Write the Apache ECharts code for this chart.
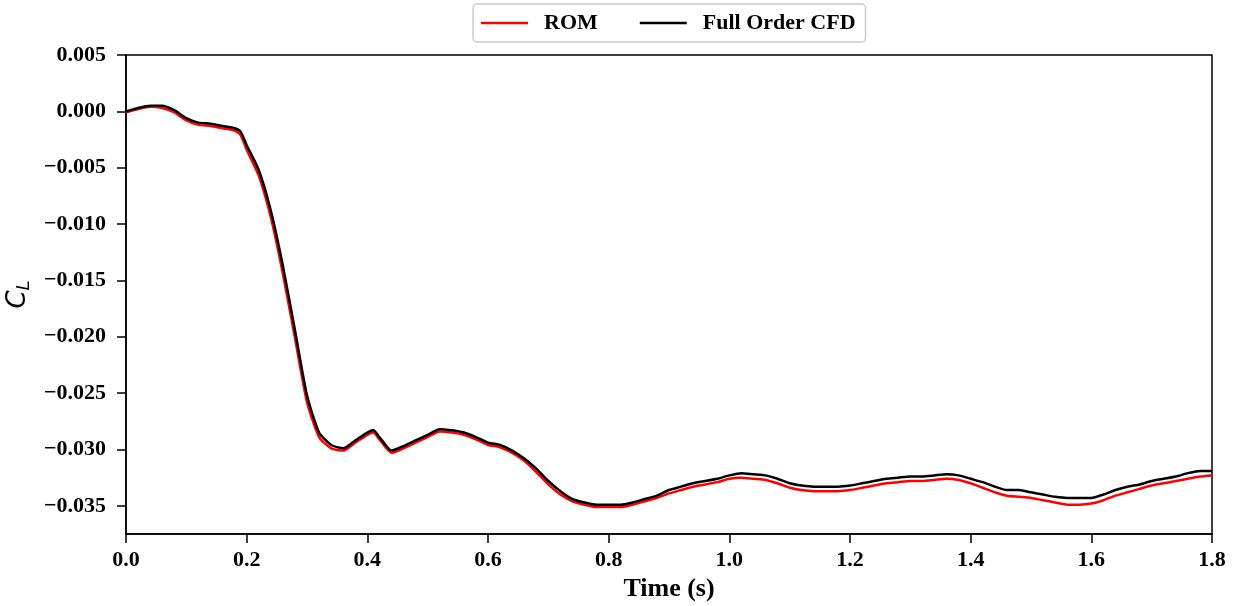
<!DOCTYPE html>
<html>
<head>
<meta charset="utf-8">
<script src="https://cdn.jsdelivr.net/npm/echarts@6/dist/echarts.min.js"></script>
<style>
  html, body { margin: 0; padding: 0; background: #fff; }
  #chart { width: 1238px; height: 606px; }
</style>
</head>
<body>
<div id="chart"></div>
<script>
const time = [0, 0.02, 0.04, 0.06, 0.08, 0.10, 0.12, 0.14, 0.16, 0.18, 0.19, 0.20,
  0.22, 0.24, 0.26, 0.28, 0.30, 0.32, 0.34, 0.36, 0.38, 0.40, 0.41, 0.42, 0.44,
  0.46, 0.48, 0.50, 0.52, 0.54, 0.56, 0.58, 0.60, 0.62, 0.64, 0.66, 0.68, 0.70,
  0.72, 0.74, 0.76, 0.78, 0.80, 0.82, 0.84, 0.86, 0.88, 0.90, 0.92, 0.94, 0.96,
  0.98, 1.00, 1.02, 1.04, 1.06, 1.08, 1.10, 1.12, 1.14, 1.16, 1.18, 1.20, 1.22,
  1.24, 1.26, 1.28, 1.30, 1.32, 1.34, 1.36, 1.38, 1.40, 1.42, 1.44, 1.46, 1.48,
  1.50, 1.52, 1.54, 1.56, 1.58, 1.60, 1.62, 1.64, 1.66, 1.68, 1.70, 1.72, 1.74,
  1.76, 1.78, 1.80];

const cfd = [0.0000, 0.0003, 0.0005, 0.0005, 0.0001, -0.0006, -0.0010, -0.0011,
  -0.0013, -0.0015, -0.0018, -0.0030, -0.0052, -0.0088, -0.0137, -0.0194, -0.0252,
  -0.0285, -0.0296, -0.0299, -0.0292, -0.0285, -0.0283, -0.0289, -0.0301, -0.0297,
  -0.0292, -0.0287, -0.0282, -0.0283, -0.0285, -0.0289, -0.0294, -0.0296, -0.0301,
  -0.0308, -0.0317, -0.0328, -0.0337, -0.0344, -0.0347, -0.0349, -0.0349, -0.0349,
  -0.0347, -0.0344, -0.0341, -0.0336, -0.0333, -0.0330, -0.0328, -0.0326, -0.0323,
  -0.0321, -0.0322, -0.0323, -0.0326, -0.0330, -0.0332, -0.0333, -0.0333, -0.0333,
  -0.0332, -0.0330, -0.0328, -0.0326, -0.0325, -0.0324, -0.0324, -0.0323, -0.0322,
  -0.0323, -0.0326, -0.0329, -0.0333, -0.0336, -0.0336, -0.0338, -0.0340, -0.0342,
  -0.0343, -0.0343, -0.0343, -0.0340, -0.0336, -0.0333, -0.0331, -0.0328, -0.0326,
  -0.0324, -0.0321, -0.0319, -0.0319];

const rom = [-0.0001, 0.0002, 0.0004, 0.0003, -0.0001, -0.0008, -0.0012, -0.0013,
  -0.0015, -0.0017, -0.0021, -0.0034, -0.0057, -0.0094, -0.0144, -0.0201, -0.0258,
  -0.0289, -0.0299, -0.0301, -0.0294, -0.0287, -0.0285, -0.0291, -0.0303, -0.0299,
  -0.0294, -0.0289, -0.0284, -0.0285, -0.0287, -0.0291, -0.0296, -0.0298, -0.0303,
  -0.0310, -0.0320, -0.0331, -0.0340, -0.0346, -0.0349, -0.0351, -0.0351, -0.0351,
  -0.0349, -0.0346, -0.0343, -0.0339, -0.0336, -0.0333, -0.0331, -0.0329, -0.0326,
  -0.0325, -0.0326, -0.0327, -0.0330, -0.0334, -0.0336, -0.0337, -0.0337, -0.0337,
  -0.0336, -0.0334, -0.0332, -0.0330, -0.0329, -0.0328, -0.0328, -0.0327, -0.0326,
  -0.0327, -0.0330, -0.0334, -0.0338, -0.0341, -0.0342, -0.0343, -0.0345, -0.0347,
  -0.0349, -0.0349, -0.0348, -0.0345, -0.0341, -0.0338, -0.0335, -0.0332, -0.0330,
  -0.0328, -0.0326, -0.0324, -0.0323];

const yTicks = [0.005, 0, -0.005, -0.010, -0.015, -0.020, -0.025, -0.030, -0.035];

const serif = "'Liberation Serif', 'Times New Roman', serif";

const chart = echarts.init(document.getElementById("chart"));

const option = {
  animation: false,
  legend: {
    top: 4,
    left: 473,
    data: [
      { name: "ROM", icon: "rect" },
      { name: "Full Order CFD", icon: "rect" }
    ],
    itemWidth: 47,
    itemHeight: 2.5,
    itemGap: 42,
    padding: [8, 10, 8, 8],
    borderColor: "#cccccc",
    borderWidth: 1.5,
    borderRadius: 4,
    textStyle: {
      fontFamily: serif,
      fontWeight: "bold",
      fontSize: 22,
      color: "#000",
      padding: [0, 0, 0, 11]
    }
  },
  grid: {
    left: 126,
    right: 26,
    top: 55,
    bottom: 72,
    outerBoundsMode: "none",
    show: true,
    borderColor: "#000",
    borderWidth: 1.5
  },
  xAxis: {
    type: "value",
    min: 0,
    max: 1.8,
    interval: 0.2,
    name: "Time (s)",
    nameLocation: "middle",
    nameGap: 41,
    nameTextStyle: { fontFamily: serif, fontWeight: "bold", fontSize: 26, color: "#000" },
    axisLine: { onZero: false, lineStyle: { color: "#000", width: 1.5 } },
    axisTick: { length: 9, lineStyle: { color: "#000", width: 1.5 } },
    splitLine: { show: false },
    axisLabel: {
      margin: 15,
      fontFamily: serif,
      fontWeight: "bold",
      fontSize: 22,
      color: "#000",
      formatter: (v) => v.toFixed(1)
    }
  },
  yAxis: {
    type: "value",
    min: -0.0375,
    max: 0.005,
    name: "{c|C}{l|L}",
    nameLocation: "middle",
    nameGap: 86,
    nameRotate: 90,
    nameTextStyle: {
      rich: {
        c: { fontFamily: "'DejaVu Sans'", fontStyle: "italic", fontSize: 26, color: "#000" },
        l: { fontFamily: "'DejaVu Sans'", fontStyle: "italic", fontSize: 18, color: "#000", verticalAlign: "bottom", padding: [12, 0, 0, 0] }
      }
    },
    axisLine: { onZero: false, lineStyle: { color: "#000", width: 1.5 } },
    axisTick: { length: 9, customValues: yTicks, lineStyle: { color: "#000", width: 1.5 } },
    splitLine: { show: false },
    axisLabel: {
      customValues: yTicks,
      margin: 20,
      fontFamily: serif,
      fontWeight: "bold",
      fontSize: 22,
      color: "#000",
      formatter: (v) => {
        const s = Math.abs(v).toFixed(3);
        return v < -1e-9 ? "\u2212" + s : s;
      }
    }
  },
  series: [
    {
      name: "ROM",
      type: "line",
      symbol: "none",
      smooth: 0.2,
      data: time.map((t, i) => [t, rom[i]]),
      lineStyle: { color: "#ff0000", width: 2.5 },
      itemStyle: { color: "#ff0000" }
    },
    {
      name: "Full Order CFD",
      type: "line",
      symbol: "none",
      smooth: 0.2,
      data: time.map((t, i) => [t, cfd[i]]),
      lineStyle: { color: "#000000", width: 2.5 },
      itemStyle: { color: "#000000" }
    }
  ]
};

chart.setOption(option);

window.addEventListener("resize", () => {
  chart.resize();
});
</script>
</body>
</html>
